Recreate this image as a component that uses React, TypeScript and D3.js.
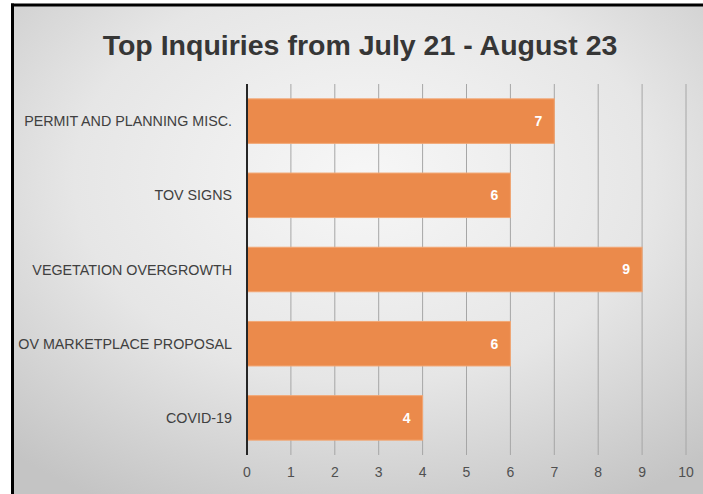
import React from "react";
import * as d3 from "d3";

const categories = [
  "PERMIT AND PLANNING MISC.",
  "TOV SIGNS",
  "VEGETATION OVERGROWTH",
  "OV MARKETPLACE PROPOSAL",
  "COVID-19",
];
const values = [7, 6, 9, 6, 4];
const xTicks = [0, 1, 2, 3, 4, 5, 6, 7, 8, 9, 10];
const title = "Top Inquiries from July 21 - August 23";

const W = 703;
const H = 494;
const plot = { left: 247, right: 686, top: 84, bottom: 455 };

export default function App() {
  const x = d3.scaleLinear().domain([0, 10]).range([plot.left, plot.right]);
  const y = d3
    .scaleBand<string>()
    .domain(categories)
    .range([plot.top, plot.bottom])
    .paddingInner(0.4)
    .paddingOuter(0.2);

  const font = "'Liberation Sans', Arial, sans-serif";

  return (
    <svg
      width={W}
      height={H}
      style={{ position: "absolute", left: 0, top: 0, display: "block" }}
    >
      <defs>
        <radialGradient id="bg" cx="0.5" cy="0.35" r="0.75">
          <stop offset="0" stopColor="#f7f7f7" />
          <stop offset="0.55" stopColor="#e6e6e6" />
          <stop offset="1" stopColor="#c4c4c4" />
        </radialGradient>
      </defs>
      <rect x={0} y={0} width={W} height={H} fill="#ffffff" />
      <rect x={12.5} y={5} width={W} height={H} fill="url(#bg)" />
      <line x1={12.5} y1={3.5} x2={12.5} y2={H} stroke="#000" strokeWidth={3} />
      <line x1={11} y1={5} x2={W} y2={5} stroke="#000" strokeWidth={3} />

      <text
        x={360}
        y={55}
        textAnchor="middle"
        fontFamily={font}
        fontWeight="bold"
        fontSize={28.5}
        fill="#363636"
      >
        {title}
      </text>

      {xTicks.slice(1).map((t) => (
        <line
          key={"g" + t}
          x1={x(t)}
          x2={x(t)}
          y1={plot.top}
          y2={plot.bottom}
          stroke="#a6a6a6"
          strokeWidth={1}
        />
      ))}

      {categories.map((c, i) => (
        <rect
          key={c}
          x={x(0)}
          y={y(c)!}
          width={x(values[i]) - x(0)}
          height={y.bandwidth()}
          fill="#eb8a4b"
          stroke="#f3a774"
          strokeWidth={1}
        />
      ))}

      <line
        x1={x(0)}
        x2={x(0)}
        y1={plot.top}
        y2={plot.bottom}
        stroke="#262626"
        strokeWidth={2}
      />

      {categories.map((c, i) => (
        <text
          key={"v" + c}
          x={x(values[i]) - 16}
          y={y(c)! + y.bandwidth() / 2}
          dy="0.35em"
          textAnchor="middle"
          fontFamily={font}
          fontWeight="bold"
          fontSize={14}
          fill="#ffffff"
        >
          {values[i]}
        </text>
      ))}

      {categories.map((c) => (
        <text
          key={"l" + c}
          x={232}
          y={y(c)! + y.bandwidth() / 2}
          dy="0.35em"
          textAnchor="end"
          fontFamily={font}
          fontSize={14.3}
          fill="#404040"
        >
          {c}
        </text>
      ))}

      {xTicks.map((t) => (
        <text
          key={"t" + t}
          x={x(t)}
          y={472}
          dy="0.35em"
          textAnchor="middle"
          fontFamily={font}
          fontSize={14}
          fill="#505050"
        >
          {t}
        </text>
      ))}
    </svg>
  );
}
